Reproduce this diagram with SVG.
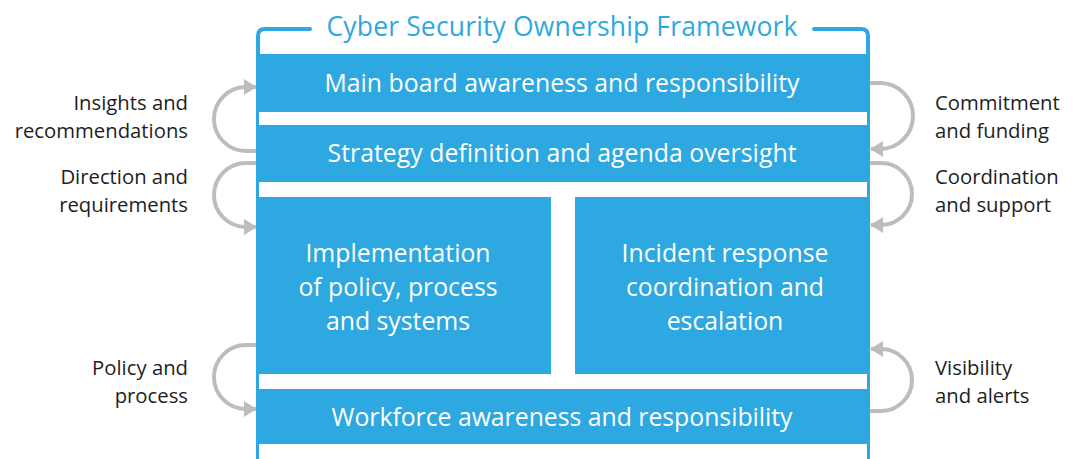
<svg xmlns="http://www.w3.org/2000/svg" width="1078" height="459" viewBox="0 0 1078 459">
  <style>
    .frame { fill: #2EA8E0; }
    .gap { fill: #FFFFFF; }
    .edge { fill: none; stroke: #2EA8E0; stroke-width: 4; stroke-linecap: round; }
    .title { font-family: "Open Sans", "Liberation Sans", sans-serif; font-size: 26.5px; fill: #2EA8E0; text-anchor: middle; }
    .band { font-family: "Open Sans", "Liberation Sans", sans-serif; font-size: 24.8px; fill: #FFFFFF; text-anchor: middle; }
    .side { font-family: "Open Sans", "Liberation Sans", sans-serif; font-size: 20.3px; fill: #1E1E1E; }
    .left { text-anchor: end; }
    .right { text-anchor: start; }
    .flow { fill: none; stroke: #BDBDBD; stroke-width: 4; }
  </style>
  <defs>
    <marker id="head" markerUnits="userSpaceOnUse" markerWidth="14" markerHeight="16" refX="12" refY="8" orient="auto">
      <path d="M0,0 L13,8 L0,16 Z" fill="#BDBDBD"/>
    </marker>
  </defs>

  <rect width="1078" height="459" fill="#FFFFFF"/>

  <!-- framework body: blue block with white separators -->
  <g id="framework">
    <path class="edge" d="M310,29 H265 Q258,29 258,36 V56"/>
    <path class="edge" d="M814,29 H861 Q868,29 868,36 V56"/>
    <rect class="frame" x="256" y="54" width="614" height="405"/>
    <rect class="gap" x="259" y="112" width="608" height="13"/>
    <rect class="gap" x="259" y="182" width="608" height="15"/>
    <rect class="gap" x="551" y="197" width="24" height="177"/>
    <rect class="gap" x="259" y="374" width="608" height="15"/>
    <rect class="gap" x="259" y="444" width="608" height="15"/>
    <text class="title" x="562" y="36" textLength="471" lengthAdjust="spacing">Cyber Security Ownership Framework</text>
  </g>

  <g id="main-board">
    <text class="band" x="562" y="92" textLength="475" lengthAdjust="spacing">Main board awareness and responsibility</text>
  </g>
  <g id="strategy">
    <text class="band" x="562" y="162" textLength="469" lengthAdjust="spacing">Strategy definition and agenda oversight</text>
  </g>
  <g id="implementation">
    <text class="band" x="398" y="262">Implementation</text>
    <text class="band" x="398" y="296">of policy, process</text>
    <text class="band" x="398" y="330">and systems</text>
  </g>
  <g id="incident-response">
    <text class="band" x="725" y="262">Incident response</text>
    <text class="band" x="725" y="296">coordination and</text>
    <text class="band" x="725" y="330">escalation</text>
  </g>
  <g id="workforce">
    <text class="band" x="562" y="426" textLength="461" lengthAdjust="spacing">Workforce awareness and responsibility</text>
  </g>

  <!-- feedback loops between the layers -->
  <g id="connectors">
    <path class="flow" d="M256,151 H246 A32,32 0 0 1 246,87 H256" marker-end="url(#head)"/>
    <path class="flow" d="M256,163 H246 A32,32 0 0 0 246,227 H256" marker-end="url(#head)"/>
    <path class="flow" d="M256,345 H246 A32,32 0 0 0 246,409 H256" marker-end="url(#head)"/>
    <path class="flow" d="M870,83 H880 A33,33 0 0 1 880,149 H871" marker-end="url(#head)"/>
    <path class="flow" d="M870,163 H881 A31,31 0 0 1 881,225 H871" marker-end="url(#head)"/>
    <path class="flow" d="M870,411 H881 A31,31 0 0 0 881,349 H871" marker-end="url(#head)"/>
  </g>

  <g id="labels">
    <text class="side left" x="188" y="110">Insights and</text>
    <text class="side left" x="188" y="138">recommendations</text>
    <text class="side left" x="188" y="184">Direction and</text>
    <text class="side left" x="188" y="212">requirements</text>
    <text class="side left" x="188" y="375">Policy and</text>
    <text class="side left" x="188" y="403">process</text>
    <text class="side right" x="935" y="110">Commitment</text>
    <text class="side right" x="935" y="138">and funding</text>
    <text class="side right" x="935" y="184">Coordination</text>
    <text class="side right" x="935" y="212">and support</text>
    <text class="side right" x="935" y="375">Visibility</text>
    <text class="side right" x="935" y="403">and alerts</text>
  </g>
</svg>
